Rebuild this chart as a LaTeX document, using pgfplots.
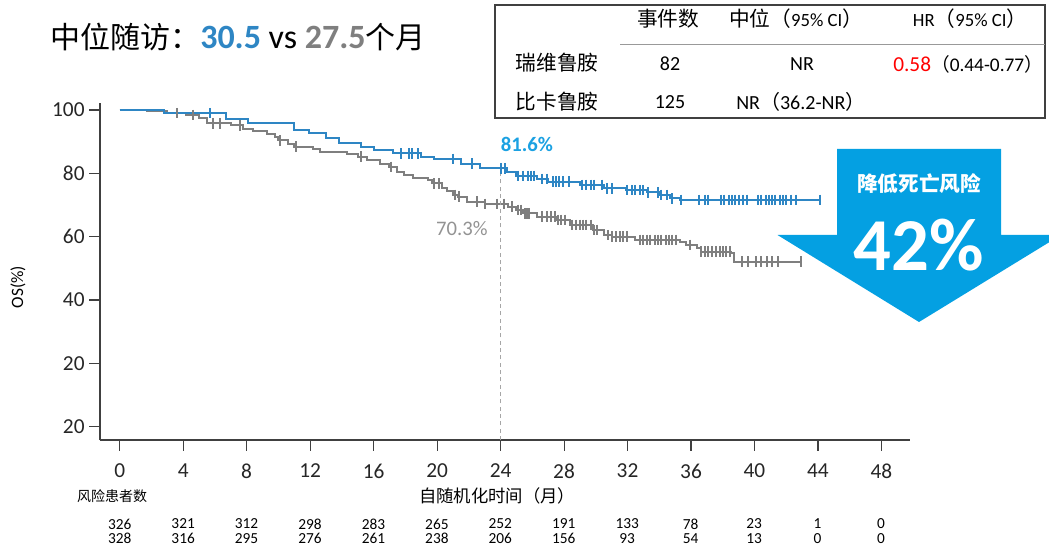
\documentclass[border=0pt]{standalone}
\usepackage{pgfplots}
\pgfplotsset{compat=1.18}
\usepackage{pgfplotstable}
\usepackage{fontspec}
\setmainfont{Carlito}
\newfontfamily\cjk{Noto Sans CJK SC}

\definecolor{rvblue}{HTML}{2E86C4}
\definecolor{bkgray}{HTML}{7F7F7F}
\definecolor{lblblue}{HTML}{1BA1E2}
\definecolor{arrowblue}{HTML}{04A0E2}
\definecolor{axgray}{HTML}{404040}

% Kaplan-Meier estimates: t (months), s (OS %), c = 1 for a censored patient
\pgfplotstableread{
t s c
0 100 0
2.8 99.0 0
5.7 99.0 1
6.7 97.0 0
8.1 95.8 0
11.0 93.8 0
11.9 92.6 0
13.0 91.2 0
13.8 89.7 0
15.2 88.2 0
16.0 87.4 0
17.2 86.3 0
17.7 86.3 1
18.2 86.3 1
18.4 86.3 1
18.8 86.3 1
19.0 85.3 0
19.8 84.5 0
21.0 84.5 1
21.5 83.0 0
22.2 83.0 1
22.7 81.6 0
24.0 81.6 1
24.3 81.6 1
24.4 80.5 0
25.0 79.2 0
25.1 79.2 1
25.4 79.2 1
25.7 79.2 1
25.9 79.2 1
26.1 79.2 1
26.3 78.2 0
26.6 78.2 1
26.9 78.2 1
27.0 77.4 0
27.3 77.4 1
27.5 77.4 1
27.7 77.4 1
27.95 77.4 1
28.3 77.4 1
29.0 76.3 0
29.1 76.3 1
29.4 76.3 1
29.7 76.3 1
29.9 76.3 1
30.4 76.3 1
30.5 75.3 0
30.7 75.3 1
31.0 75.3 1
31.9 74.7 0
31.96 74.7 1
32.3 74.7 1
32.5 74.7 1
32.8 74.7 1
33.0 74.7 1
33.2 74.0 0
33.3 74.0 1
33.9 74.0 1
34.0 73.2 0
34.1 73.2 1
34.5 73.2 1
34.7 72.1 0
34.8 72.1 1
35.3 71.6 0
35.4 71.6 1
36.5 71.6 1
36.9 71.6 1
37.1 71.6 1
37.9 71.6 1
38.1 71.6 1
38.4 71.6 1
38.6 71.6 1
38.8 71.6 1
39.05 71.6 1
39.3 71.6 1
39.5 71.6 1
40.2 71.6 1
40.4 71.6 1
40.7 71.6 1
40.9 71.6 1
41.1 71.6 1
41.3 71.6 1
41.6 71.6 1
41.8 71.6 1
42.0 71.6 1
42.3 71.6 1
42.6 71.6 1
44.1 71.6 1
}\rvdata

\pgfplotstableread{
t s c
0 100 0
1.7 99.7 0
3.0 99.0 0
3.6 99.0 1
4.2 98.4 0
4.65 98.4 1
5.0 97.5 0
5.5 95.8 0
5.9 95.8 1
6.3 95.8 1
7.0 95.2 0
7.6 95.2 1
7.8 94.0 0
8.4 93.3 0
9.3 92.4 0
9.8 91.5 0
10.0 90.4 0
10.1 90.4 1
10.6 89.4 0
11.0 88.4 0
11.1 88.4 1
12.2 87.6 0
12.6 86.8 0
14.3 86.1 0
15.0 85.3 0
15.2 85.3 1
15.6 84.2 0
16.4 83.0 0
17.0 82.0 0
17.1 82.0 1
17.5 80.5 0
17.9 79.5 0
18.5 78.4 0
19.4 77.9 0
19.7 76.8 0
19.8 76.8 1
20.1 76.8 1
20.3 75.5 0
20.6 74.5 0
21.0 73.2 0
21.1 73.2 1
21.3 72.6 0
21.35 72.6 1
21.9 71.1 0
22.5 71.1 1
23.0 70.3 0
23.05 70.3 1
23.8 70.3 1
24.2 70.3 1
24.5 69.5 0
24.75 69.5 1
25.0 68.4 0
25.1 68.4 1
25.3 68.4 1
25.4 67.4 0
25.55 67.4 1
25.66 67.4 1
25.8 67.4 1
26.3 66.3 0
26.6 66.3 1
26.9 66.3 1
27.15 66.3 1
27.4 66.3 1
27.5 65.3 0
27.6 65.3 1
27.8 65.3 1
28.07 65.3 1
28.4 63.7 0
28.5 63.7 1
28.75 63.7 1
28.98 63.7 1
29.2 63.7 1
29.4 63.7 1
29.7 63.7 1
29.8 62.1 0
29.9 62.1 1
30.1 62.1 1
30.5 60.5 0
30.8 60.5 1
31.0 60.0 0
31.05 60.0 1
31.3 60.0 1
31.5 60.0 1
31.7 60.0 1
31.96 60.0 1
32.5 59.0 0
32.8 59.0 1
33.0 59.0 1
33.2 59.0 1
33.4 59.0 1
33.7 59.0 1
33.9 59.0 1
34.1 59.0 1
34.4 59.0 1
34.6 59.0 1
34.8 59.0 1
35.05 59.0 1
35.3 58.4 0
35.7 57.4 0
35.96 57.4 1
36.4 56.3 0
36.6 55.3 0
36.65 55.3 1
36.9 55.3 1
37.1 55.3 1
37.3 55.3 1
37.6 55.3 1
37.8 55.3 1
38.0 55.3 1
38.2 55.3 1
38.45 55.3 1
38.5 54.7 0
38.7 52.1 0
39.2 52.1 1
39.6 52.1 1
40.1 52.1 1
40.4 52.1 1
40.8 52.1 1
41.1 52.1 1
41.5 52.1 1
42.9 52.1 1
}\bkdata

\begin{document}
\begin{tikzpicture}
\path[use as bounding box] (0,0) rectangle (786.75pt,410.25pt);

\begin{axis}[
  at={(75pt,80.25pt)}, anchor=south west,
  scale only axis, width=607.5pt, height=252.5pt,
  xmin=-1.24, xmax=49.8, ymin=-4.2, ymax=102.1,
  axis x line*=bottom, axis y line*=left,
  axis line style={axgray, line width=1pt},
  tick align=outside, major tick length=8pt,
  tick style={axgray, line width=0.8pt},
  xtick={0,4,...,48},
  ytick={0,20,40,60,80,100},
  yticklabels={20,20,40,60,80,100},
  /pgf/number format/assume math mode=true,
  ticklabel style={font=\fontsize{16}{18}\selectfont, text=black!85},
  xticklabel style={yshift=-6.5pt},
  clip=false,
]
% censor-mark plots keep only rows with c = 1
\addplot[bkgray, line width=1.5pt, const plot, no marks] table[x=t,y=s] {\bkdata};
\addplot[bkgray, only marks, mark=|, mark size=4pt, mark options={line width=1.5pt},
  unbounded coords=discard, x filter/.expression={\thisrow{c}==1 ? x : nan}]
  table[x=t,y=s] {\bkdata};
\addplot[rvblue, line width=1.5pt, const plot, no marks] table[x=t,y=s] {\rvdata};
\addplot[rvblue, only marks, mark=|, mark size=4pt, mark options={line width=1.5pt},
  unbounded coords=discard, x filter/.expression={\thisrow{c}==1 ? x : nan}]
  table[x=t,y=s] {\rvdata};

\addplot[gray!70, line width=0.6pt, dash pattern=on 3pt off 2.5pt] coordinates {(24,-4.2) (24,81.6)};

\node[anchor=west, inner sep=0pt, text=lblblue, font=\fontsize{15.5}{18}\selectfont\bfseries]
  at (axis cs:24,89) {81.6\%};
\node[anchor=east, inner sep=0pt, xshift=-9.5pt, text=gray!85, font=\fontsize{15.5}{18}\selectfont]
  at (axis cs:24,62.7) {70.3\%};
\end{axis}

\begin{scope}[x=0.75pt, y=-0.75pt, shift={(0,410.25pt)}]
  % title
  \node[anchor=west, inner sep=0pt, font=\fontsize{25.5}{30}\selectfont] at (50,37)
    {{\cjk\fontsize{22.5}{27}\selectfont 中位随访：}\textcolor{rvblue}{\textbf{30.5}} vs \textcolor{bkgray}{\textbf{27.5}}{\cjk\fontsize{22.5}{27}\selectfont 个月}};

  % y-axis title
  \node[rotate=90, font=\fontsize{13}{15}\selectfont] at (18,287) {OS(\%)};

  % summary table
  \draw[axgray, line width=1.3pt] (495,5) rectangle (1045,118);
  \draw[gray!80, line width=0.7pt] (620,44.5) -- (1045,44.5);
  \node[font=\cjk\fontsize{15.5}{18}\selectfont] at (668,19) {事件数};
  \node[font=\fontsize{15.5}{18}\selectfont] at (796,19)
    {{\cjk 中位（}{\fontsize{14}{16}\selectfont 95\% CI}{\cjk ）}};
  \node[font=\fontsize{14}{16}\selectfont] at (970,19)
    {HR{\cjk\fontsize{15.5}{18}\selectfont （}95\% CI{\cjk\fontsize{15.5}{18}\selectfont ）}};
  \node[font=\cjk\fontsize{15.5}{18}\selectfont] at (557,63) {瑞维鲁胺};
  \node[font=\cjk\fontsize{15.5}{18}\selectfont] at (557,102) {比卡鲁胺};
  \node[font=\fontsize{15}{18}\selectfont] at (670,64) {82};
  \node[font=\fontsize{15}{18}\selectfont] at (670,102) {125};
  \node[font=\fontsize{15}{18}\selectfont] at (802,64) {NR};
  \node[anchor=west, inner sep=0pt, font=\fontsize{14.5}{18}\selectfont] at (893,64)
    {\textcolor{red}{\fontsize{16}{18}\selectfont 0.58}{\cjk\fontsize{14}{16}\selectfont （}0.44-0.77{\cjk\fontsize{14}{16}\selectfont ）}};
  \node[anchor=west, inner sep=0pt, font=\fontsize{15}{18}\selectfont] at (736,102)
    {NR{\cjk （}36.2-NR{\cjk ）}};

  % risk reduction arrow
  \fill[arrowblue] (837,149) -- (1001,149) -- (1001,235) -- (1061,235) -- (919,322)
    -- (777.5,235) -- (837,235) -- cycle;
  \node[text=white, font=\cjk\fontsize{15.5}{18}\selectfont\bfseries] at (919,184) {降低死亡风险};
  \node[text=white, font=\fontsize{56}{60}\selectfont\bfseries] at (919,245) {42\%};

  % axis title and number at risk
  \node[font=\cjk\fontsize{13}{15}\selectfont] at (497,496) {自随机化时间（月）};
  \node[font=\cjk\fontsize{10.5}{12}\selectfont] at (112,496) {风险患者数};
  \foreach \v/\a/\b in {0/326/328, 4/321/316, 8/312/295, 12/298/276, 16/283/261,
      20/265/238, 24/252/206, 28/191/156, 32/133/93, 36/78/54, 40/23/13, 44/1/0, 48/0/0} {
    \node[font=\fontsize{11.5}{13}\selectfont] at ({119.7+\v*15.86},524) {\a};
    \node[font=\fontsize{11.5}{13}\selectfont] at ({119.7+\v*15.86},538.5) {\b};
  }
\end{scope}
\end{tikzpicture}
\end{document}
